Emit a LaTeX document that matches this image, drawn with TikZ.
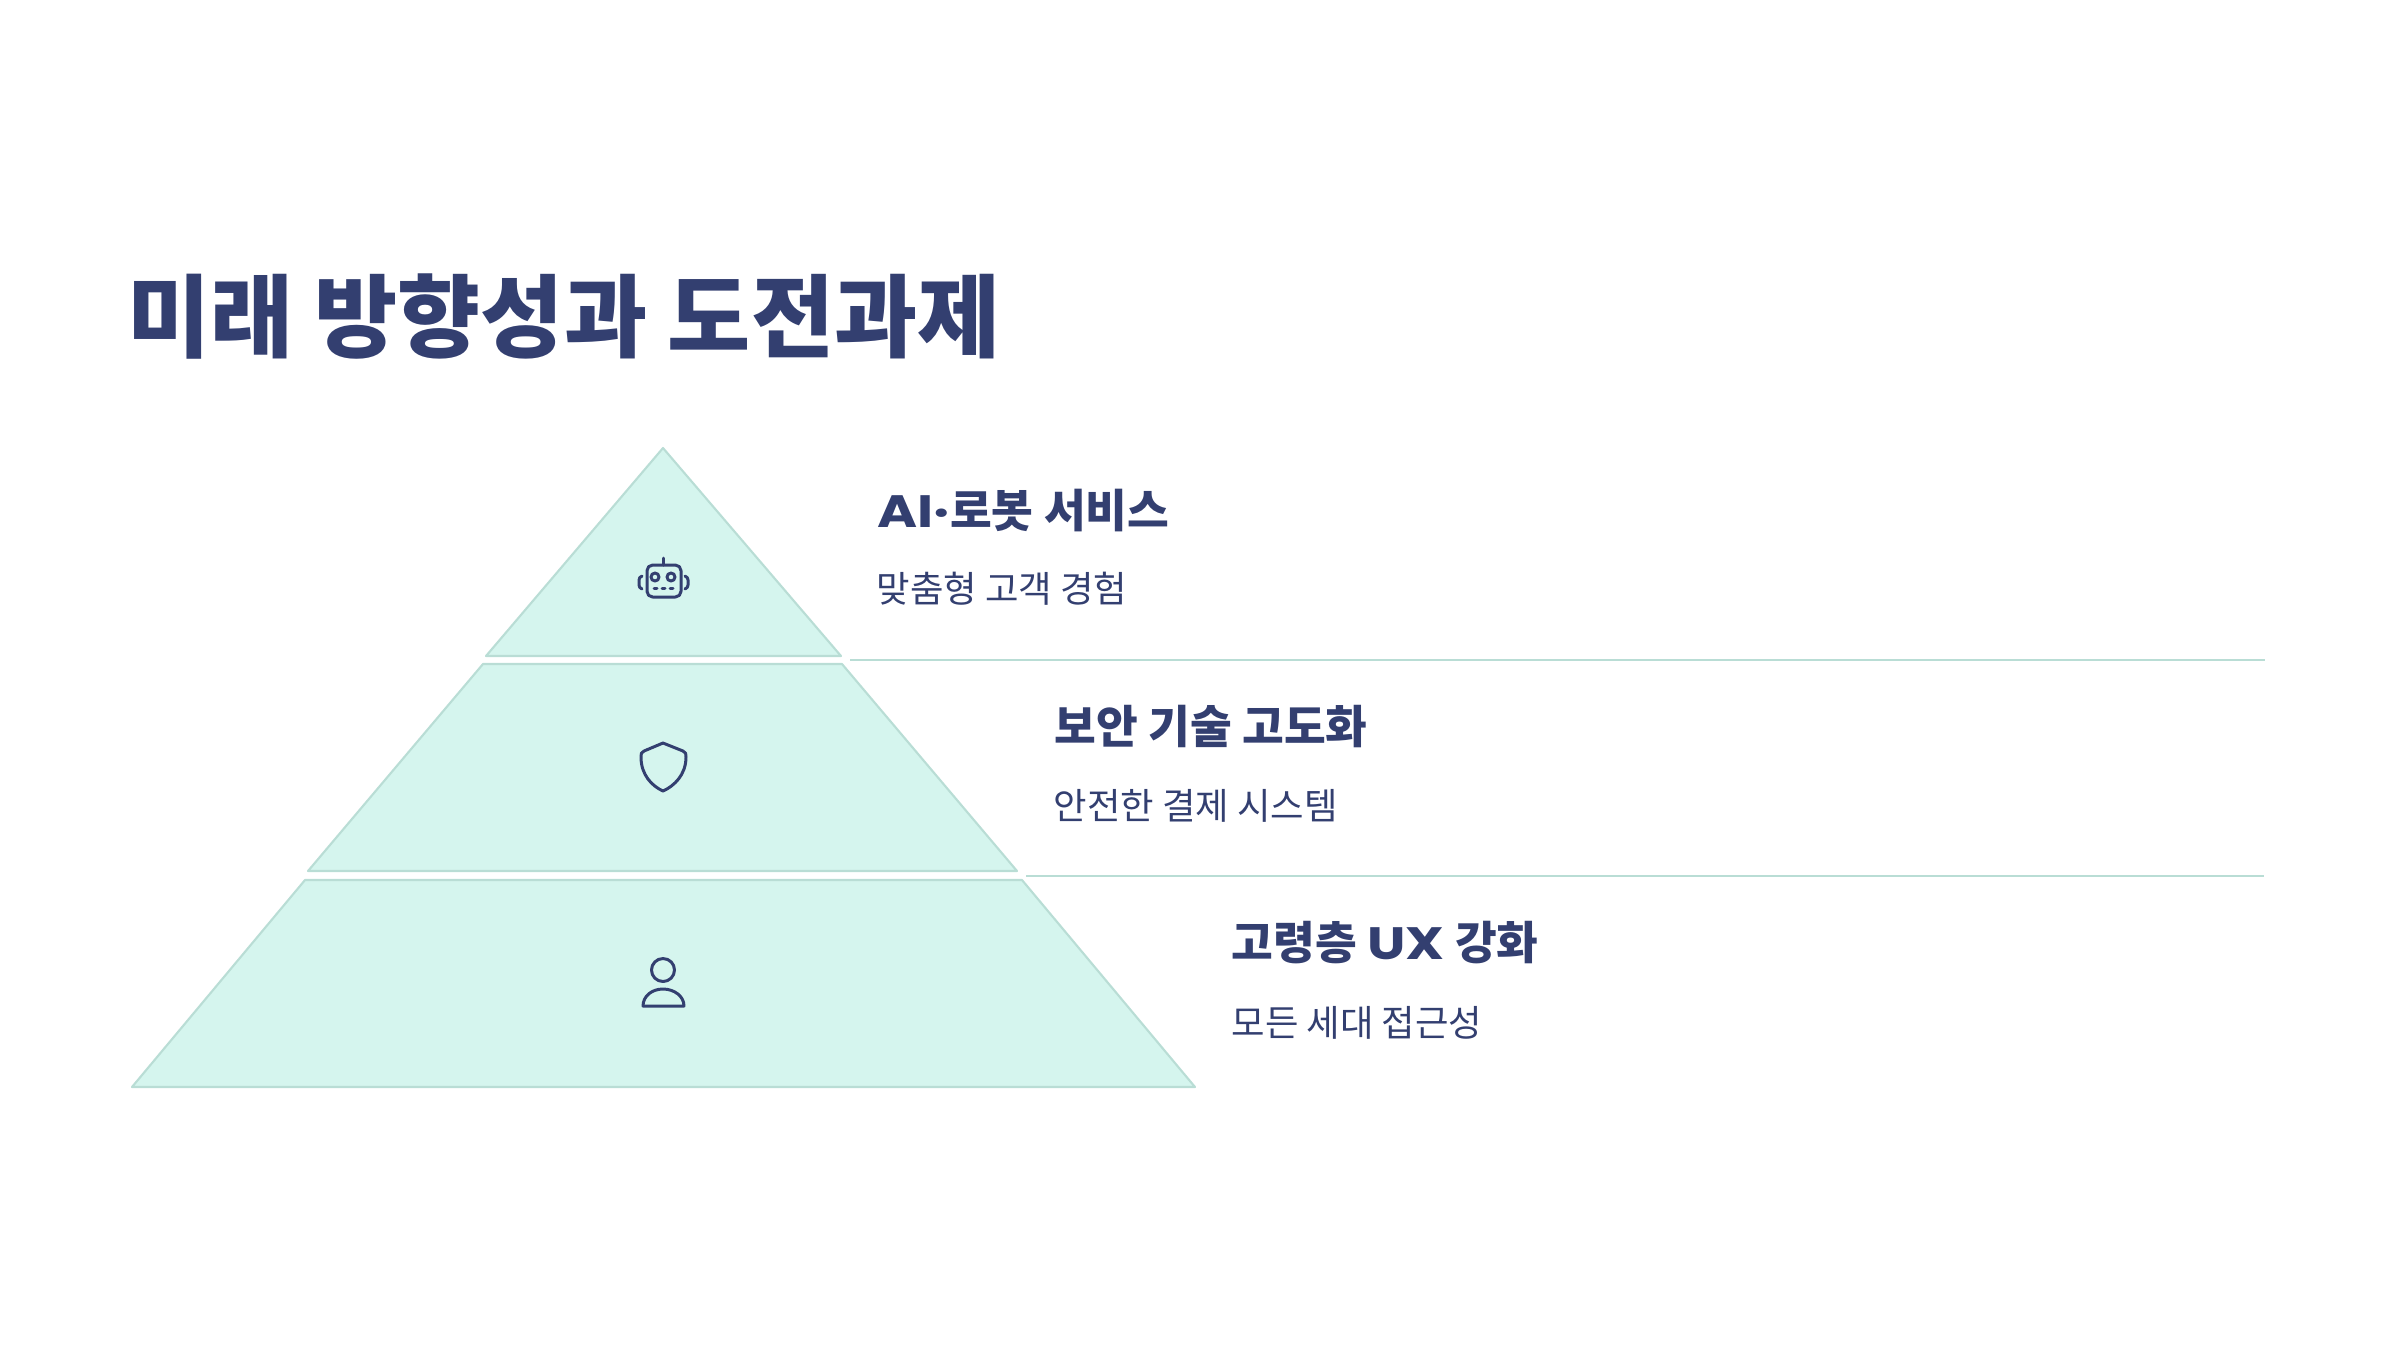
\documentclass[tikz,border=0pt]{standalone}
\usepackage{fontspec}
\usepackage{xcolor}
\setmainfont{Noto Sans CJK KR}
\newfontfamily\headlatin[FakeStretch=1.2]{Poppins}
\definecolor{tier-fill}{HTML}{D5F5EE}
\definecolor{tier-line}{HTML}{B9DDD5}
\definecolor{ink-navy}{HTML}{333F70}

\begin{document}
\begin{tikzpicture}[x=0.01cm, y=-0.01cm,
    tier/.style={draw=tier-line, fill=tier-fill, line width=0.6pt, line join=round},
    rule/.style={draw=tier-line, line width=0.6pt},
    icon/.style={draw=ink-navy, line width=0.85pt, line cap=round, line join=round},
    titletext/.style={anchor=base west, inner sep=0pt, text=ink-navy, font=\fontsize{25.7}{30}\selectfont\bfseries},
    headtext/.style={anchor=base west, inner sep=0pt, text=ink-navy, font=\fontsize{12.9}{16}\selectfont\bfseries},
    subtext/.style={anchor=base west, inner sep=0pt, text=ink-navy, font=\fontsize{10.35}{14}\selectfont}]
    \useasboundingbox (0,0) rectangle (2400,1350);
    \node[titletext] (title) at (127,350) {미래 방향성과 도전과제};
    % tiers
    \draw[tier] (663,448) -- (841,656) -- (486,656) -- cycle;
    \draw[tier] (483,664) -- (842,664) -- (1017,871) -- (308,871) -- cycle;
    \draw[tier] (305,880) -- (1022,880) -- (1195,1087) -- (132,1087) -- cycle;
    % separators
    \coordinate (r1a) at (850,660);
    \coordinate (r1b) at (2265,660);
    \coordinate (r2a) at (1026,876);
    \coordinate (r2b) at (2264,876);
    \draw[rule] (r1a) -- (r1b);
    \draw[rule] (r2a) -- (r2b);
    % labels
    \node[headtext] (h1) at (877,527) {{\headlatin AI·}로봇 서비스};
    \node[subtext] (s1) at (876,602) {맞춤형 고객 경험};
    \node[headtext] (h2) at (1054,743) {보안 기술 고도화};
    \node[subtext] (s2) at (1053,819) {안전한 결제 시스템};
    \node[headtext] (h3) at (1231,959) {고령층 {\headlatin UX} 강화};
    \node[subtext] (s3) at (1231,1036) {모든 세대 접근성};
    % robot
    \draw[icon, rounded corners=1.6pt] (647,565) rectangle (681,597);
    \draw[icon] (663,565) -- (663,558);
    \draw[icon] (655,577) circle (4);
    \draw[icon] (671,577) circle (4);
    \draw[icon] (654,588) -- (657,588) (662,588) -- (665,588) (670,588) -- (673,588);
    \draw[icon] (642,576) .. controls (640,577) and (639,578) .. (639,580) -- (639,585) .. controls (639,587) and (640,588) .. (642,589);
    \draw[icon] (685,576) .. controls (687,577) and (688,578) .. (688,580) -- (688,585) .. controls (688,587) and (687,588) .. (685,589);
    % shield
    \draw[icon] (663,743) -- (644,751) .. controls (641,752) and (641,754) .. (641,757)
      .. controls (641,775) and (652,786) .. (663,791)
      .. controls (674,786) and (686,775) .. (686,757)
      .. controls (686,754) and (686,752) .. (683,751) -- cycle;
    % person
    \draw[icon] (663,970) circle (11.5);
    \draw[icon] (643,1006) .. controls (643,996) and (652,989) .. (663,989)
      .. controls (674,989) and (684,996) .. (684,1006) -- cycle;
\end{tikzpicture}
\end{document}
